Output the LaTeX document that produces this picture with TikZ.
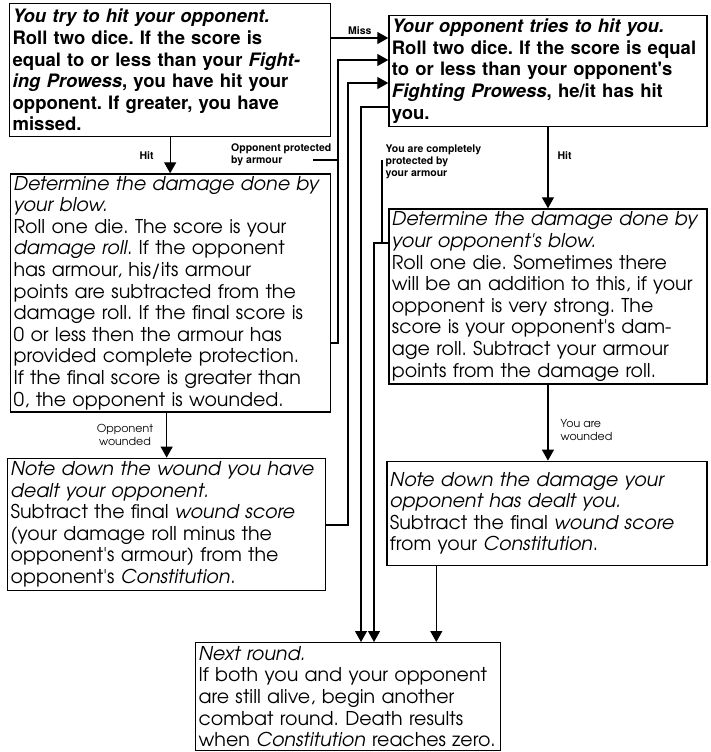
\documentclass[tikz,border=0pt]{standalone}
\usepackage{fontspec}
\newfontfamily\agfont{texgyreadventor}[Extension=.otf,UprightFont=*-regular,BoldFont=*-bold,ItalicFont=*-italic,BoldItalicFont=*-bolditalic]
\newfontfamily\hvfont{texgyreheros}[Extension=.otf,UprightFont=*-regular,BoldFont=*-bold,ItalicFont=*-italic,BoldItalicFont=*-bolditalic]
\usetikzlibrary{positioning}
\usetikzlibrary{arrows.meta}
\frenchspacing

\begin{document}
\begin{tikzpicture}[x=1pt,y=-1pt,>={Triangle[length=11pt,width=12pt]},line width=1.3pt,
	main node/.style={draw,rectangle,anchor=north west,inner xsep=3pt,inner ysep=0pt,align=left,
		font=\agfont\fontsize{19}{21.6}\selectfont},
	bold node/.style={main node,font=\hvfont\bfseries\fontsize{18.5}{21.6}\selectfont},
	label node/.style={inner sep=1pt,align=center,font=\agfont\fontsize{11}{12.5}\selectfont},
	small node/.style={inner sep=1pt,align=left,font=\hvfont\bfseries\fontsize{10.5}{12}\selectfont}]
	
	\useasboundingbox (0,0) rectangle (711,752);
	
	\node[bold node,text width=315pt,minimum height=133pt] (a) at (9,3)
	{\textit{You try to hit your opponent.}\\
	Roll two dice. If the score is\\
	equal to or less than your \textit{Fight-}\\
	\textit{ing Prowess}, you have hit your\\
	opponent. If greater, you have\\
	missed.};
	\node[bold node,text width=312pt,minimum height=111pt,right=57pt of a.north east,anchor=north west,yshift=-12pt] (b)
	{\textit{Your opponent tries to hit you.}\\
	Roll two dice. If the score is equal\\
	to or less than your opponent's\\
	\textit{Fighting Prowess}, he/it has hit\\
	you.};
	\node[main node,text width=314pt,minimum height=238pt,below=36pt of a.south west,anchor=north west,xshift=1pt] (c)
	{\textit{Determine the damage done by}\\
	\textit{your blow.}\\
	Roll one die. The score is your\\
	\textit{damage roll}. If the opponent\\
	has armour, his/its armour\\
	points are subtracted from the\\
	damage roll. If the final score is\\
	0 or less then the armour has\\
	provided complete protection.\\
	If the final score is greater than\\
	0, the opponent is wounded.};
	\node[main node,text width=312pt,minimum height=175pt,below=81pt of b.south west,anchor=north west] (d)
	{\textit{Determine the damage done by}\\
	\textit{your opponent's blow.}\\
	Roll one die. Sometimes there\\
	will be an addition to this, if your\\
	opponent is very strong. The\\
	score is your opponent's dam-\\
	age roll. Subtract your armour\\
	points from the damage roll.};
	\node[main node,text width=312pt,minimum height=132pt,below=45pt of c.south west,anchor=north west,xshift=-3pt] (e)
	{\textit{Note down the wound you have}\\
	\textit{dealt your opponent.}\\
	Subtract the final \textit{wound score}\\
	(your damage roll minus the\\
	opponent's armour) from the\\
	opponent's \textit{Constitution}.};
	\node[main node,text width=314pt,minimum height=104pt,below=76pt of d.south west,anchor=north west,xshift=-2pt] (f)
	{\textit{Note down the damage your}\\
	\textit{opponent has dealt you.}\\
	Subtract the final \textit{wound score}\\
	from your \textit{Constitution}.};
	\node[main node,text width=299pt,minimum height=108pt] (n) at (195,642)
	{\textit{Next round.}\\
	If both you and your opponent\\
	are still alive, begin another\\
	combat round. Death results\\
	when \textit{Constitution} reaches zero.};
	
	% side labels
	\node[small node,anchor=south east] (prot1) at (333,167) {Opponent protected\\by armour};
	\node[small node,anchor=north west] (prot2) at (384,143) {You are completely\\protected by\\your armour};
	
	% bends
	\coordinate (j1) at (338,343);
	\coordinate (j2) at (348,525);
	\coordinate (j3) at (361,107);
	\coordinate (j4) at (374,243);
	\coordinate (k1) at (313,160);
	\coordinate (k2) at (382,160);
	\coordinate (f1) at ([xshift=50pt]f.south west);
	
	\draw[->] (a.east |- 0,38) -- node[small node,above=2pt] {Miss} (b.west |- 0,38);
	\draw[->] (c.east |- j1) -- (j1) |- (b.west |- 0,60);
	\draw[->] (e.east |- j2) -- (j2) |- (b.west |- 0,83);
	\draw[->] (b.west |- j3) -- (j3) -- (j3 |- n.north);
	\draw[->] (d.west |- j4) -- (j4) -- (j4 |- n.north);
	\draw[->] (f1) -- (f1 |- n.north);
	\draw (k1) -- (k1 -| j1);
	\draw (k2) -- (k2 |- j4);
	
	\draw[->] (a.south) -- node[small node,left=15pt] {Hit} (a.south |- c.north);
	\draw[->] (b.south) -- node[small node,pos=.35,right=8pt] {Hit} (b.south |- d.north);
	\draw[->] (e.north |- c.south) -- node[label node,left=12pt] {Opponent\\wounded} (e.north);
	\draw[->] (d.south) -- node[label node,pos=.6,right=11pt,align=left] {You are\\wounded} (d.south |- f.north);
\end{tikzpicture}
\end{document}
